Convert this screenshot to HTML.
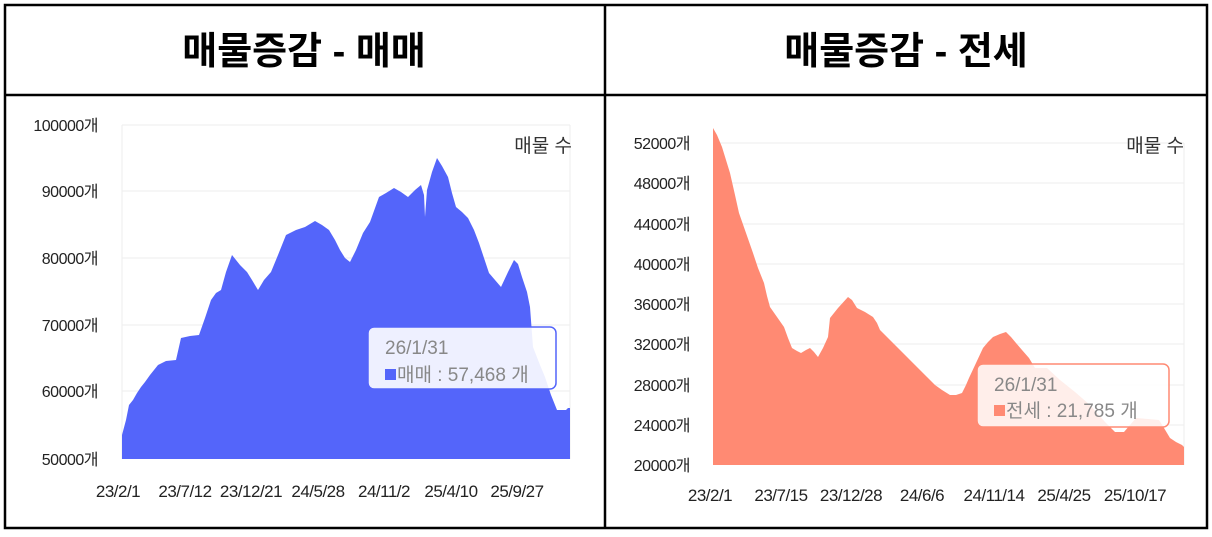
<!DOCTYPE html>
<html><head><meta charset="utf-8"><style>
html,body{margin:0;padding:0;background:#fff;width:1212px;height:537px;overflow:hidden}
text{font-family:"Liberation Sans","Noto Sans CJK KR",sans-serif}
</style></head><body>
<svg width="1212" height="537" viewBox="0 0 1212 537" xmlns="http://www.w3.org/2000/svg">
<rect x="0" y="0" width="1212" height="537" fill="#fff"/>
<rect x="5" y="5" width="1202" height="523" fill="none" stroke="#000" stroke-width="2.5"/>
<line x1="5" y1="95" x2="1207" y2="95" stroke="#000" stroke-width="2.5"/>
<line x1="605" y1="5" x2="605" y2="528" stroke="#000" stroke-width="2.5"/>
<text x="304" y="64" font-size="38" font-weight="bold" text-anchor="middle" fill="#000">매물증감 - 매매</text>
<text x="906" y="64" font-size="38" font-weight="bold" text-anchor="middle" fill="#000">매물증감 - 전세</text>

<g stroke="#eeeeee" stroke-width="1">
<line x1="122" y1="125" x2="570" y2="125"/><line x1="122" y1="191" x2="570" y2="191"/>
<line x1="122" y1="258" x2="570" y2="258"/><line x1="122" y1="325" x2="570" y2="325"/>
<line x1="122" y1="391" x2="570" y2="391"/><line x1="122" y1="125" x2="122" y2="459"/>
<line x1="570" y1="125" x2="570" y2="459"/>
</g>
<g font-size="16" fill="#222" text-anchor="end" letter-spacing="-0.5">
<text x="98" y="131">100000개</text><text x="98" y="197">90000개</text>
<text x="98" y="264">80000개</text><text x="98" y="331">70000개</text>
<text x="98" y="397">60000개</text><text x="98" y="465">50000개</text>
</g>
<path fill="#5465FA" d="M122,459 L122,435 L126,420 L129,405 L133,400 L137,393 L141,387 L145,382 L150,375 L158,365 L166,361 L176,360 L181,338 L190,336 L199,335 L205,318 L211,300 L216,293 L221,290 L226,272 L232,255 L240,265 L247,272 L252,280 L258,290 L264,280 L271,272 L278,255 L286,235 L296,230 L305,227 L315,221 L322,225 L329,230 L335,240 L340,250 L345,258 L350,262 L356,250 L363,233 L370,222 L379,197 L386,193 L394,188 L401,192 L408,197 L415,190 L421,185 L424,195 L425,217 L427,190 L432,172 L437,158 L442,166 L448,177 L452,193 L456,207 L462,212 L468,218 L474,230 L479,243 L484,258 L489,273 L495,280 L501,287 L508,272 L514,260 L518,264 L522,277 L527,292 L530,307 L533,347 L540,365 L545,377 L551,395 L557,410 L566,410 L568,408 L570,408 L570,459 Z"/>
<text x="572" y="152" font-size="19" fill="#333" text-anchor="end">매물 수</text>
<g font-size="17" fill="#222" text-anchor="middle" letter-spacing="-0.5">
<text x="118" y="497">23/2/1</text><text x="185" y="497">23/7/12</text>
<text x="251" y="497">23/12/21</text><text x="318" y="497">24/5/28</text>
<text x="384" y="497">24/11/2</text><text x="451" y="497">25/4/10</text>
<text x="517" y="497">25/9/27</text>
</g>
<rect x="368" y="327" width="188" height="62" rx="6" fill="#fff" fill-opacity="0.9" stroke="#5465FA" stroke-width="1.5"/>
<text x="385" y="354" font-size="19" fill="#888">26/1/31</text>
<rect x="385" y="369" width="11" height="11" fill="#5465FA"/>
<text x="397" y="381" font-size="19" fill="#888">매매 : 57,468 개</text>

<g stroke="#eeeeee" stroke-width="1">
<line x1="713" y1="143" x2="1184" y2="143"/><line x1="713" y1="183" x2="1184" y2="183"/>
<line x1="713" y1="224" x2="1184" y2="224"/><line x1="713" y1="264" x2="1184" y2="264"/>
<line x1="713" y1="304" x2="1184" y2="304"/><line x1="713" y1="344" x2="1184" y2="344"/>
<line x1="713" y1="385" x2="1184" y2="385"/><line x1="713" y1="425" x2="1184" y2="425"/>
<line x1="1184" y1="143" x2="1184" y2="465"/>
</g>
<g font-size="16" fill="#222" text-anchor="end" letter-spacing="-0.5">
<text x="690" y="149">52000개</text><text x="690" y="189">48000개</text>
<text x="690" y="230">44000개</text><text x="690" y="270">40000개</text>
<text x="690" y="310">36000개</text><text x="690" y="350">32000개</text>
<text x="690" y="391">28000개</text><text x="690" y="431">24000개</text>
<text x="690" y="471">20000개</text>
</g>
<path fill="#FF8A73" d="M713,465 L713,128 L717,135 L722,147 L726,160 L730,173 L735,195 L739,213 L746,233 L753,253 L758,268 L764,283 L767,296 L770,307 L777,317 L784,327 L788,338 L792,348 L797,351 L801,353 L806,350 L810,348 L814,352 L818,357 L823,348 L828,337 L830,318 L838,308 L848,297 L852,300 L857,308 L865,312 L873,317 L877,323 L880,330 L890,340 L900,350 L908,358 L915,365 L921,371 L927,377 L931,381 L935,385 L942,390 L950,395 L956,395 L962,393 L966,385 L969,378 L976,363 L983,348 L988,342 L993,337 L1000,334 L1006,332 L1011,337 L1016,343 L1022,350 L1029,358 L1032,363 L1035,368 L1047,368 L1060,380 L1075,392 L1090,405 L1105,422 L1115,432 L1124,432 L1130,425 L1136,418 L1148,419 L1159,420 L1164,428 L1170,438 L1176,442 L1182,445 L1184,447 L1184,465 Z"/>
<text x="1184" y="152" font-size="19" fill="#333" text-anchor="end">매물 수</text>
<g font-size="17" fill="#222" text-anchor="middle" letter-spacing="-0.5">
<text x="710" y="501">23/2/1</text><text x="781" y="501">23/7/15</text>
<text x="851" y="501">23/12/28</text><text x="922" y="501">24/6/6</text>
<text x="994" y="501">24/11/14</text><text x="1064" y="501">25/4/25</text>
<text x="1135" y="501">25/10/17</text>
</g>
<rect x="977" y="364" width="192" height="63" rx="6" fill="#fff" fill-opacity="0.85" stroke="#FF8A73" stroke-width="1.5"/>
<text x="994" y="391" font-size="19" fill="#888">26/1/31</text>
<rect x="994" y="405" width="11" height="11" fill="#FF8A73"/>
<text x="1006" y="417" font-size="19" fill="#888">전세 : 21,785 개</text>
</svg>
</body></html>
